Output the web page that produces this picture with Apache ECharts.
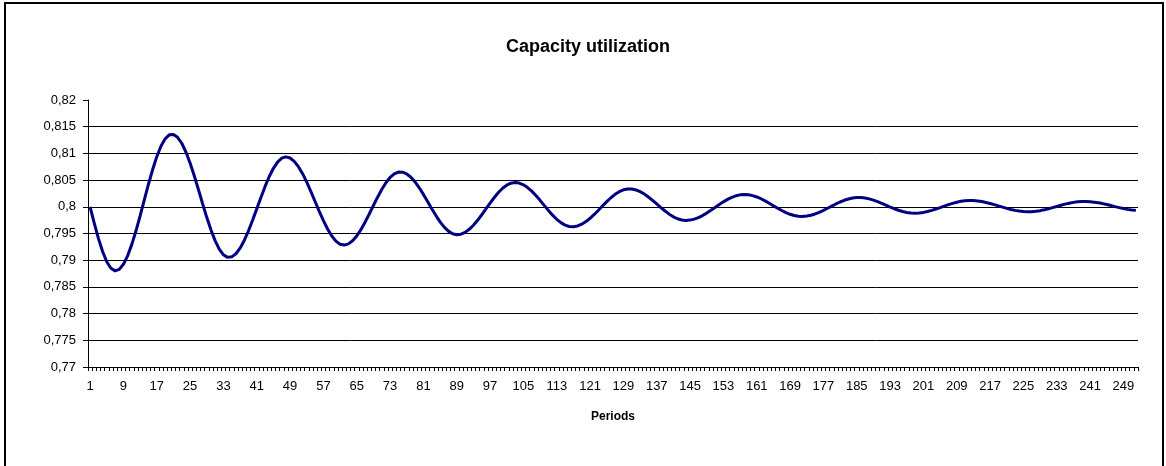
<!DOCTYPE html>
<html>
<head>
<meta charset="utf-8">
<script src="https://cdn.jsdelivr.net/npm/echarts@6/dist/echarts.min.js"></script>
<style>
  html, body { margin: 0; padding: 0; background: #fff; }
  #chart { width: 1166px; height: 466px; }
</style>
</head>
<body>
<div id="chart"></div>
<script>
// periods 1..252
const periods = Array.from({ length: 252 }, (_, i) => String(i + 1));

// capacity utilization
const utilization = [
  0.8, 0.79694, 0.79409, 0.79163, 0.78971, 0.78848, 0.788, 0.78828, 0.78923, 0.79081,
  0.79292, 0.79546, 0.79828, 0.80125, 0.80418, 0.80694, 0.80938, 0.81133, 0.81272, 0.81348,
  0.81355, 0.81301, 0.8119, 0.81026, 0.8082, 0.80582, 0.80324, 0.8006, 0.79803, 0.79569,
  0.79366, 0.79206, 0.79101, 0.79053, 0.79063, 0.79121, 0.79225, 0.7937, 0.79547, 0.79747,
  0.79961, 0.80175, 0.80381, 0.80567, 0.80721, 0.80838, 0.80911, 0.80935, 0.80914, 0.80852,
  0.80752, 0.8062, 0.80461, 0.80285, 0.801, 0.79915, 0.7974, 0.79584, 0.79454, 0.79357,
  0.793, 0.79283, 0.79305, 0.79363, 0.79454, 0.79572, 0.79712, 0.79865, 0.80024, 0.8018,
  0.80325, 0.8045, 0.8055, 0.80618, 0.80651, 0.80648, 0.80615, 0.80553, 0.80465, 0.80356,
  0.80232, 0.80099, 0.79965, 0.79836, 0.79718, 0.7962, 0.79544, 0.79496, 0.79477, 0.79487,
  0.79521, 0.79578, 0.79655, 0.79747, 0.79851, 0.7996, 0.8007, 0.80174, 0.80268, 0.80347,
  0.80406, 0.80443, 0.80455, 0.80444, 0.80412, 0.80361, 0.80293, 0.80211, 0.80121, 0.80026,
  0.79932, 0.79844, 0.79766, 0.79703, 0.79657, 0.79631, 0.79627, 0.79642, 0.79674, 0.79723,
  0.79785, 0.79857, 0.79936, 0.80018, 0.80097, 0.8017, 0.80233, 0.80284, 0.80318, 0.80335,
  0.80333, 0.80316, 0.80284, 0.8024, 0.80184, 0.80121, 0.80054, 0.79986, 0.79921, 0.79862,
  0.79813, 0.79776, 0.79753, 0.79745, 0.79751, 0.79769, 0.79798, 0.79836, 0.79882, 0.79934,
  0.79988, 0.80041, 0.80093, 0.80139, 0.80177, 0.80206, 0.80224, 0.8023, 0.80225, 0.80209,
  0.80184, 0.80151, 0.80111, 0.80067, 0.8002, 0.79974, 0.79931, 0.79892, 0.7986, 0.79837,
  0.79823, 0.7982, 0.79827, 0.79842, 0.79866, 0.79897, 0.79933, 0.79973, 0.80013, 0.80053,
  0.8009, 0.80122, 0.80147, 0.80165, 0.80173, 0.80173, 0.80164, 0.80148, 0.80125, 0.80097,
  0.80065, 0.8003, 0.79996, 0.79964, 0.79935, 0.79911, 0.79893, 0.79883, 0.7988, 0.79885,
  0.79895, 0.79912, 0.79933, 0.79958, 0.79985, 0.80013, 0.8004, 0.80065, 0.80086, 0.80103,
  0.80113, 0.80118, 0.80116, 0.8011, 0.80098, 0.80082, 0.80063, 0.80041, 0.80017, 0.79994,
  0.79971, 0.7995, 0.79933, 0.7992, 0.79911, 0.79907, 0.79909, 0.79916, 0.79928, 0.79943,
  0.79962, 0.79984, 0.80006, 0.80028, 0.8005, 0.80068, 0.80083, 0.80094, 0.80099, 0.801,
  0.80096, 0.80087, 0.80075, 0.8006, 0.80042, 0.80023, 0.80003, 0.79984, 0.79967, 0.79952,
  0.79941, 0.79933
];

const yMin = 0.77;
const yMax = 0.82;
const yStep = 0.005;

const font = 'Arial, "Liberation Sans", sans-serif';

const chart = echarts.init(document.getElementById("chart"), null, { renderer: "canvas" });

chart.setOption({
  backgroundColor: "#fff",
  animation: false,
  title: {
    text: "Capacity utilization",
    left: 583,
    textAlign: "center",
    top: 33,
    textStyle: { fontFamily: font, fontSize: 18, fontWeight: "bold", color: "#000" },
  },
  grid: { left: 88, right: 28, top: 100, bottom: 99, containLabel: false },
  xAxis: {
    type: "category",
    data: periods,
    boundaryGap: true,
    name: "Periods",
    nameLocation: "middle",
    nameGap: 44,
    nameTextStyle: { fontFamily: font, fontSize: 12, fontWeight: "bold", color: "#000" },
    axisLine: { lineStyle: { color: "#000", width: 1 } },
    axisTick: { show: true, interval: 0, length: 4, lineStyle: { color: "#000" } },
    axisLabel: { interval: 7, margin: 13, fontFamily: font, fontSize: 13, color: "#000" },
    splitLine: { show: false },
  },
  yAxis: {
    type: "value",
    min: yMin,
    max: yMax,
    interval: yStep,
    axisLine: { show: true, lineStyle: { color: "#000", width: 1 } },
    axisTick: { show: true, length: 5, lineStyle: { color: "#000" } },
    axisLabel: {
      margin: 12,
      fontFamily: font,
      fontSize: 13,
      color: "#000",
      formatter: (v) => String(+v.toFixed(3)).replace(".", ","),
    },
    splitLine: { show: true, showMaxLine: false, lineStyle: { color: "#000", width: 1 } },
  },
  series: [
    {
      type: "line",
      data: utilization,
      symbol: "none",
      lineStyle: { color: "#000080", width: 3 },
    },
  ],
  graphic: [
    {
      type: "rect",
      shape: { x: 5, y: 3, width: 1158, height: 480 },
      style: { fill: null, stroke: "#000", lineWidth: 2 },
      silent: true,
    },
  ],
});
</script>
</body>
</html>
